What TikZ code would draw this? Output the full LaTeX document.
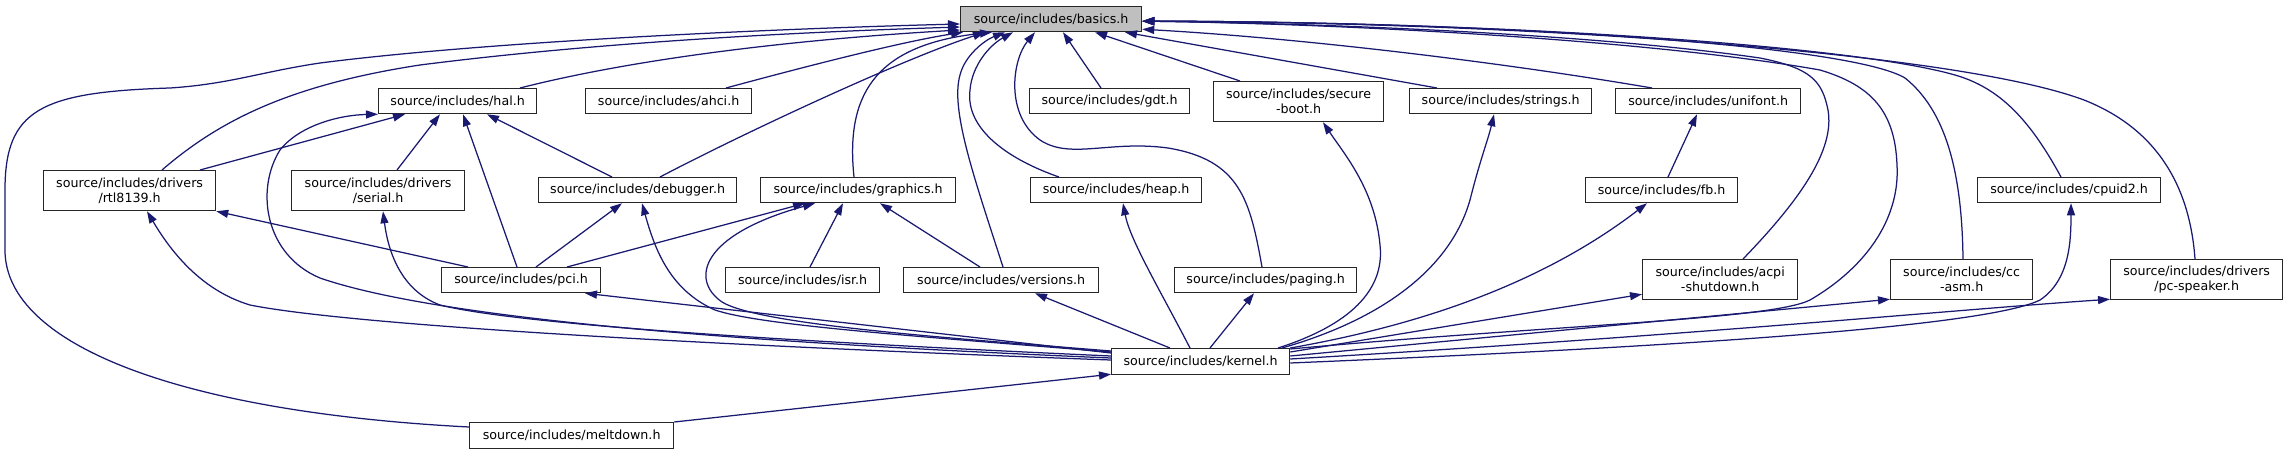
\documentclass[tikz,border=0pt]{standalone}
\usepackage{fontspec}
\setmainfont{DejaVu Sans}
\usetikzlibrary{calc,arrows.meta}
\definecolor{edgeblue}{RGB}{25,25,112}
\definecolor{grey75}{RGB}{191,191,191}

\begin{document}
\begin{tikzpicture}[x=0.2mm, y=-0.2mm, >={Triangle[length=2.4mm,width=1.6mm]},
  font=\fontsize{7.2}{8.5}\selectfont,
  filebox/.style={draw=black!85, line width=0.25mm, fill=white, align=center, inner sep=0pt},
  incl/.style={->, draw=edgeblue, line width=0.25mm}]
  % a header box with its top left corner at (#3,#4), #5 wide and #6 high
  \newcommand{\incfile}[7][]{%
    \node[filebox, #1, anchor=north west, minimum width=#5*0.2mm, minimum height=#6*0.2mm]
      (#2) at (#3,#4) {#7};
  }
  \useasboundingbox (0,0) rectangle (2287,455);
  % ------------------------------------------------------------------ the headers
  \incfile[fill=grey75]{basics}{960}{6}{181}{25}{source/includes/basics.h}
  \incfile{hal}{378}{88}{158}{25}{source/includes/hal.h}
  \incfile{ahci}{585}{88}{166}{25}{source/includes/ahci.h}
  \incfile{gdt}{1029}{88}{160}{25}{source/includes/gdt.h}
  \incfile{secure}{1213}{81}{170}{40}{source/includes/secure\\-boot.h}
  \incfile{strings}{1409}{88}{182}{25}{source/includes/strings.h}
  \incfile{unifont}{1615}{88}{185}{25}{source/includes/unifont.h}
  \incfile{rtl}{43}{170}{172}{40}{source/includes/drivers\\/rtl8139.h}
  \incfile{serial}{291}{170}{173}{40}{source/includes/drivers\\/serial.h}
  \incfile{debugger}{538}{177}{198}{25}{source/includes/debugger.h}
  \incfile{graphics}{760}{177}{195}{25}{source/includes/graphics.h}
  \incfile{heap}{1030}{177}{171}{25}{source/includes/heap.h}
  \incfile{fb}{1585}{177}{152}{25}{source/includes/fb.h}
  \incfile{cpuid2}{1977}{177}{183}{25}{source/includes/cpuid2.h}
  \incfile{pci}{441}{267}{159}{25}{source/includes/pci.h}
  \incfile{isr}{725}{267}{154}{25}{source/includes/isr.h}
  \incfile{versions}{903}{267}{195}{25}{source/includes/versions.h}
  \incfile{paging}{1174}{267}{182}{25}{source/includes/paging.h}
  \incfile{acpi}{1642}{259}{155}{40}{source/includes/acpi\\-shutdown.h}
  \incfile{ccasm}{1890}{259}{142}{40}{source/includes/cc\\-asm.h}
  \incfile{pcspk}{2110}{259}{172}{40}{source/includes/drivers\\/pc-speaker.h}
  \incfile{kernel}{1111}{348}{178}{26}{source/includes/kernel.h}
  \incfile{meltdown}{469}{422}{204}{26}{source/includes/meltdown.h}
  % ------------------------------------------------------------------ into basics.h, from the left
  \draw[incl] ($(meltdown.north west)+(0,5)$) .. controls (180,412) and (5,345) .. (5,250) -- (5,190)
    .. controls (5,110) and (40,92) .. (170,88) .. controls (230,84) and (260,72) .. (320,63)
    .. controls (500,40) and (800,28) .. ($(basics.north west)+(0,18)$);
  \draw[incl] ($(rtl.north west)+(119,0)$) .. controls (220,120) and (290,85) .. (420,65)
    .. controls (600,42) and (800,32) .. ($(basics.north west)+(0,21)$);
  \draw[incl] ($(hal.north west)+(142,0)$) .. controls (650,55) and (820,38) .. ($(basics.north west)+(0,24)$);
  \draw[incl] ($(ahci.north west)+(141,0)$) .. controls (800,68) and (900,42) .. ($(basics.south west)+(3,0)$);
  \draw[incl] ($(debugger.north west)+(122,0)$) .. controls (740,135) and (900,60) .. ($(basics.south west)+(25,0)$);
  \draw[incl] ($(graphics.north west)+(94,0)$) .. controls (846,100) and (870,45) .. ($(basics.south west)+(32,0)$);
  \draw[incl] ($(versions.north west)+(100,0)$) .. controls (975,180) and (950,110) .. (960,75)
    .. controls (965,55) and (985,40) .. ($(basics.south west)+(45,0)$);
  \draw[incl] ($(heap.north west)+(29,0)$) .. controls (1010,160) and (965,130) .. (970,90)
    .. controls (972,65) and (990,45) .. ($(basics.south west)+(53,0)$);
  \draw[incl] ($(paging.north west)+(88,0)$) .. controls (1250,200) and (1240,160) .. (1168,148)
    .. controls (1110,140) and (1070,160) .. (1040,140) .. controls (1005,115) and (1012,60) .. ($(basics.south west)+(75,0)$);
  \draw[incl] ($(gdt.north west)+(72,0)$) -- ($(basics.south west)+(103,0)$);
  \draw[incl] ($(secure.north west)+(27,0)$) -- ($(basics.south west)+(135,0)$);
  \draw[incl] ($(strings.north west)+(28,0)$) -- ($(basics.south west)+(165,0)$);
  % ------------------------------------------------------------------ into basics.h, from the right
  \draw[incl] ($(unifont.north west)+(37,0)$) .. controls (1500,62) and (1300,38) .. ($(basics.south east)+(0,-3)$);
  \draw[incl] ($(acpi.north west)+(101,0)$) .. controls (1800,200) and (1835,150) .. (1828,110)
    .. controls (1822,80) and (1810,68) .. (1760,58) .. controls (1600,35) and (1350,24) .. ($(basics.east)+(0,2)$);
  \draw[incl] ($(kernel.north east)+(0,1)$) .. controls (1550,325) and (1770,320) .. (1810,300)
    .. controls (1870,265) and (1900,215) .. (1897,165) .. controls (1895,110) and (1870,85) .. (1820,70)
    .. controls (1650,40) and (1350,24) .. ($(basics.east)+(0,2)$);
  \draw[incl] ($(ccasm.north west)+(73,0)$) .. controls (1962,170) and (1945,110) .. (1905,78)
    .. controls (1850,45) and (1500,22) .. ($(basics.east)+(0,2)$);
  \draw[incl] ($(cpuid2.north west)+(84,0)$) .. controls (2030,120) and (2000,88) .. (1955,75)
    .. controls (1850,45) and (1500,22) .. ($(basics.east)+(0,2)$);
  \draw[incl] ($(pcspk.north west)+(85,0)$) .. controls (2190,190) and (2160,130) .. (2084,100)
    .. controls (1950,50) and (1500,22) .. ($(basics.east)+(0,2)$);
  % ------------------------------------------------------------------ hal.h, pci.h, graphics.h, unifont.h
  \draw[incl] ($(rtl.north west)+(157,0)$) -- ($(hal.south west)+(27,0)$);
  \draw[incl] ($(serial.north west)+(106,0)$) -- ($(hal.south west)+(62,0)$);
  \draw[incl] ($(pci.north west)+(76,0)$) -- ($(hal.south west)+(85,0)$);
  \draw[incl] ($(debugger.north west)+(74,0)$) -- ($(hal.south west)+(109,0)$);
  \draw[incl] ($(pci.north west)+(27,0)$) -- (rtl.south east);
  \draw[incl] ($(pci.north west)+(95,0)$) -- ($(debugger.south west)+(84,0)$);
  \draw[incl] ($(pci.north west)+(126,0)$) -- ($(graphics.south west)+(45,0)$);
  \draw[incl] ($(isr.north west)+(85,0)$) -- ($(graphics.south west)+(83,0)$);
  \draw[incl] ($(versions.north west)+(77,0)$) -- ($(graphics.south west)+(120,0)$);
  \draw[incl] ($(fb.north west)+(83,0)$) -- ($(unifont.south west)+(82,0)$);
  % ------------------------------------------------------------------ out of kernel.h, to the left
  \draw[incl] ($(kernel.north west)+(0,12)$) .. controls (700,345) and (350,325) .. (250,305)
    .. controls (200,290) and (170,250) .. ($(rtl.south west)+(104,0)$);
  \draw[incl] ($(kernel.north west)+(0,10)$) .. controls (800,345) and (450,323) .. (320,278)
    .. controls (265,255) and (255,190) .. (280,150) .. controls (300,125) and (340,115) .. (hal.south west);
  \draw[incl] ($(kernel.north west)+(0,8)$) .. controls (800,342) and (520,325) .. (440,305)
    .. controls (400,290) and (388,250) .. ($(serial.south west)+(92,0)$);
  \draw[incl] ($(kernel.north west)+(0,5)$) -- ($(pci.south west)+(144,0)$);
  \draw[incl] ($(kernel.north west)+(0,4)$) .. controls (900,335) and (760,325) .. (715,310)
    .. controls (670,290) and (655,250) .. ($(debugger.south west)+(104,0)$);
  \draw[incl] ($(kernel.north west)+(0,3)$) .. controls (950,338) and (760,325) .. (722,302)
    .. controls (690,280) and (700,235) .. ($(graphics.south west)+(55,0)$);
  \draw[incl] (meltdown.north east) -- ($(kernel.south west)+(0,-1)$);
  % ------------------------------------------------------------------ out of kernel.h, upwards and to the right
  \draw[incl] ($(kernel.north west)+(59,0)$) -- ($(versions.south west)+(132,0)$);
  \draw[incl] ($(kernel.north west)+(79,0)$) .. controls (1160,290) and (1130,240) .. ($(heap.south west)+(93,0)$);
  \draw[incl] ($(kernel.north west)+(99,0)$) -- ($(paging.south west)+(80,0)$);
  \draw[incl] ($(kernel.north west)+(167,0)$) .. controls (1350,325) and (1385,290) .. (1380,245)
    .. controls (1375,190) and (1345,155) .. ($(secure.south west)+(110,0)$);
  \draw[incl] ($(kernel.north west)+(171,0)$) .. controls (1380,320) and (1450,270) .. (1470,200)
    .. controls (1480,160) and (1488,140) .. ($(strings.south west)+(85,0)$);
  \draw[incl] (kernel.north east) .. controls (1450,320) and (1560,270) .. ($(fb.south west)+(62,0)$);
  \draw[incl] ($(kernel.north east)+(0,4)$) -- ($(acpi.south west)+(0,-6)$);
  \draw[incl] ($(kernel.north east)+(0,8)$) -- ($(ccasm.south west)+(0,-1)$);
  \draw[incl] ($(kernel.north east)+(0,11)$) .. controls (1700,335) and (1950,310) .. ($(pcspk.south west)+(0,-1)$);
  \draw[incl] ($(kernel.north east)+(0,15)$) .. controls (1600,350) and (1980,330) .. (2040,300)
    .. controls (2070,280) and (2071,240) .. ($(cpuid2.south west)+(94,0)$);
\end{tikzpicture}
\end{document}
